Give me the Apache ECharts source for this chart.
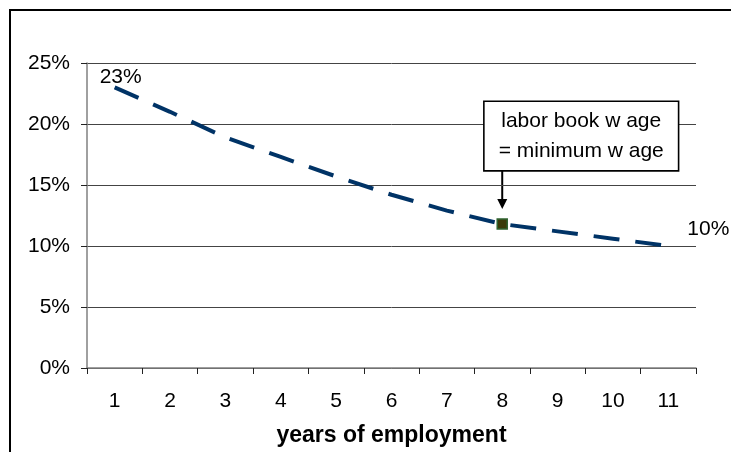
<!DOCTYPE html>
<html>
<head>
<meta charset="utf-8">
<script src="https://cdn.jsdelivr.net/npm/echarts@6/dist/echarts.min.js"></script>
<style>
  html, body { margin: 0; padding: 0; background: #fff; }
  #chart { width: 731px; height: 452px; }
</style>
</head>
<body>
<div id="chart"></div>
<script>
const categories = ['1', '2', '3', '4', '5', '6', '7', '8', '9', '10', '11'];
const shareValues = [23, 21, 18.9, 17.3, 15.7, 14.2, 12.9, 11.8, 11.2, 10.6, 10];
const yTickValues = [0, 5, 10, 15, 20, 25];
const highlightIndex = 7;
const annotationLines = ['labor book w age', '= minimum w age'];
const xAxisTitle = 'years of employment';

const FONT = '"Liberation Sans", Arial, sans-serif';
const chart = echarts.init(document.getElementById('chart'), null, { renderer: 'canvas' });

const seriesData = shareValues.map(function (v, i) {
  const item = { value: v };
  if (i === 0) {
    item.label = { show: true, formatter: Math.round(v) + '%', offset: [6, -10] };
  } else if (i === shareValues.length - 1) {
    item.label = { show: true, formatter: Math.round(v) + '%', offset: [40, -17] };
  } else if (i === highlightIndex) {
    item.symbol = 'rect';
    item.symbolSize = 10;
    item.itemStyle = { color: '#3a3a08', borderColor: '#2f632f', borderWidth: 1.5, opacity: 1 };
    item.label = {
      show: true,
      formatter: annotationLines.join('\n'),
      offset: [79, -88],
      backgroundColor: '#ffffff',
      borderColor: '#000000',
      borderWidth: 1.6,
      padding: [4, 14, 4, 14],
      lineHeight: 30,
      align: 'center'
    };
  }
  return item;
});

const frame = {
  type: 'rect',
  shape: { x: 10, y: 10, width: 900, height: 600 },
  style: { fill: 'none', stroke: '#000', lineWidth: 2 },
  silent: true,
  z: 0
};

chart.setOption({
  animation: false,
  backgroundColor: '#ffffff',
  grid: { left: 87, right: 35, top: 63, bottom: 84, containLabel: false },
  xAxis: {
    type: 'category',
    data: categories,
    boundaryGap: true,
    name: xAxisTitle,
    nameLocation: 'middle',
    nameGap: 56,
    nameTextStyle: { fontFamily: FONT, fontSize: 23, fontWeight: 'bold', color: '#000', verticalAlign: 'top' },
    axisLine: { show: true, lineStyle: { color: '#808080', width: 1.5 } },
    axisTick: { show: true, length: 6, lineStyle: { color: '#222', width: 1 } },
    axisLabel: { fontFamily: FONT, fontSize: 21, color: '#000', margin: 23 },
    splitLine: { show: false }
  },
  yAxis: {
    type: 'value',
    min: yTickValues[0],
    max: yTickValues[yTickValues.length - 1],
    interval: 5,
    axisLine: { show: true, lineStyle: { color: '#808080', width: 1.5 } },
    axisTick: { show: true, length: 6, lineStyle: { color: '#222', width: 1 } },
    axisLabel: { fontFamily: FONT, fontSize: 21, color: '#000', margin: 17, formatter: '{value}%' },
    splitLine: { show: true, lineStyle: { color: '#444', width: 1 } }
  },
  series: [{
    type: 'line',
    data: seriesData,
    symbol: 'circle',
    symbolSize: 1,
    showSymbol: true,
    itemStyle: { color: 'rgba(0,0,0,0)' },
    lineStyle: { color: '#003366', width: 4, type: [26, 16], cap: 'butt' },
    label: { show: false, position: 'inside', fontFamily: FONT, fontSize: 21, color: '#000' },
    emphasis: { disabled: true },
    z: 3
  }],
  graphic: [frame]
});

// Arrow from the annotation box down to the highlighted point
const p = chart.convertToPixel({ seriesIndex: 0 }, [highlightIndex, shareValues[highlightIndex]]);
chart.setOption({
  graphic: [frame, {
    type: 'group',
    silent: true,
    z: 10,
    children: [{
      type: 'line',
      shape: { x1: p[0], y1: p[1] - 54, x2: p[0], y2: p[1] - 22 },
      style: { stroke: '#000', lineWidth: 2 }
    }, {
      type: 'polygon',
      shape: { points: [[p[0] - 5, p[1] - 25], [p[0] + 5, p[1] - 25], [p[0], p[1] - 15]] },
      style: { fill: '#000' }
    }]
  }]
});
</script>
</body>
</html>
